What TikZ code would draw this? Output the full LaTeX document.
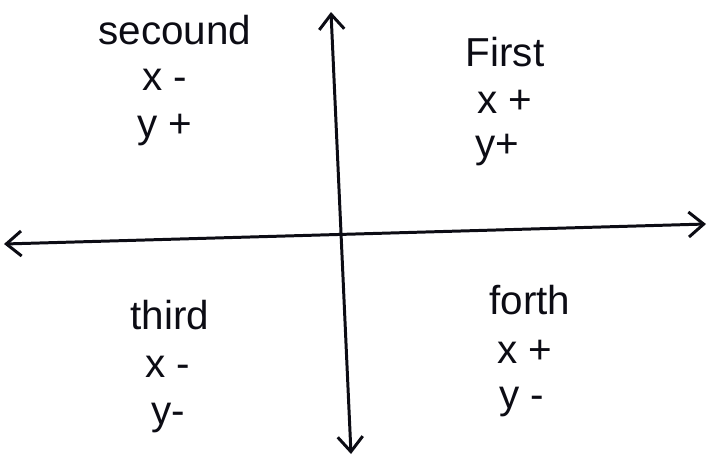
\documentclass[tikz,border=0pt]{standalone}
\usepackage{fontspec}
\setmainfont{Liberation Sans}
\usepackage{tikz}
\usetikzlibrary{arrows.meta}
\definecolor{penink}{RGB}{12, 12, 20}

\begin{document}
\begin{tikzpicture}[x=0.02cm, y=-0.02cm, font=\fontsize{23}{27}\selectfont,
    axis/.style={penink, line width=1.7pt,
      {Straight Barb[length=3mm, width=5mm]}-{Straight Barb[length=3mm, width=5mm]}},
    quad/.style={penink, inner sep=0pt}]
  \useasboundingbox (0,0) rectangle (709,458);
  % axes
  \coordinate (ytop) at (331,12);
  \coordinate (ybot) at (351,454);
  \coordinate (xleft) at (4,244);
  \coordinate (xright) at (706,224);
  \draw[axis] (ytop) -- (ybot);
  \draw[axis] (xleft) -- (xright);
  % second quadrant
  \node[quad] (sec) at (175,30) {secound};
  \node[quad] (secx) at (165,80) {x -};
  \node[quad] (secy) at (165,130) {y +};
  % first quadrant
  \node[quad] (fir) at (505,52) {First};
  \node[quad] (firx) at (505,102) {x +};
  \node[quad] (firy) at (497,150) {y+};
  % third quadrant
  \node[quad] (thi) at (170,315) {third};
  \node[quad] (thix) at (168,367) {x -};
  \node[quad] (thiy) at (168,418) {y-};
  % fourth quadrant
  \node[quad] (fou) at (530,300) {forth};
  \node[quad] (foux) at (525,352) {x +};
  \node[quad] (fouy) at (522,402) {y -};
\end{tikzpicture}
\end{document}
